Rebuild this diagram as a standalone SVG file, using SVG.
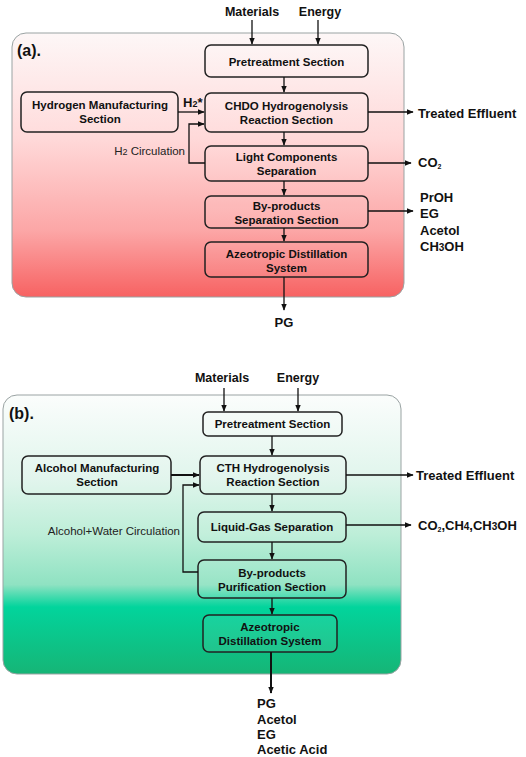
<svg xmlns="http://www.w3.org/2000/svg" width="526" height="757" viewBox="0 0 526 757">
<defs>
<linearGradient id="gRed" x1="0" y1="0" x2="0" y2="1">
<stop offset="0" stop-color="#fdf7f7"/>
<stop offset="0.4" stop-color="#ffd9d9"/>
<stop offset="0.75" stop-color="#fca6a6"/>
<stop offset="1" stop-color="#f76262"/>
</linearGradient>
<linearGradient id="gGreen" x1="0" y1="0" x2="0" y2="1">
<stop offset="0" stop-color="#fbfdfc"/>
<stop offset="0.3" stop-color="#e0f5ec"/>
<stop offset="0.5" stop-color="#bdeed8"/>
<stop offset="0.68" stop-color="#8fe2c2"/>
<stop offset="0.76" stop-color="#02d49c"/>
<stop offset="1" stop-color="#16b576"/>
</linearGradient>
<marker id="ah" viewBox="0 0 10 10" refX="9" refY="5" markerWidth="7" markerHeight="7" markerUnits="userSpaceOnUse" orient="auto">
<path d="M0,1 L10,5 L0,9 z" fill="#111"/>
</marker>
</defs>
<style>
.panel{stroke:#9aa3a3;stroke-width:1}
.box{fill:#ffffff;fill-opacity:0.08;stroke:#222;stroke-width:1.5}
.bt{font-family:"Liberation Sans",Arial,sans-serif;font-weight:bold;font-size:11.5px;fill:#111;text-anchor:middle}
.lab{font-family:"Liberation Sans",Arial,sans-serif;font-weight:bold;font-size:13px;fill:#111}
.top{font-family:"Liberation Sans",Arial,sans-serif;font-weight:bold;font-size:12.5px;fill:#111;text-anchor:middle}
.sm{font-family:"Liberation Sans",Arial,sans-serif;font-size:11.5px;fill:#222;text-anchor:end}
.pl{font-family:"Liberation Sans",Arial,sans-serif;font-weight:bold;font-size:16px;fill:#111}
.c{fill:none;stroke:#111;stroke-width:1.3}
.ct{fill:none;stroke:#111;stroke-width:2}
</style>

<!-- Panel (a) -->
<g id="panelA">
<rect class="panel" x="12" y="33" width="392" height="264" rx="14" fill="url(#gRed)"/>
<text class="pl" x="17" y="56">(a).</text>
</g>
<g id="a_materials"><text class="top" x="252" y="16">Materials</text></g>
<g id="a_energy"><text class="top" x="320" y="16">Energy</text></g>
<g id="a_pre">
<rect class="box" x="205" y="45" width="163" height="32" rx="6"/>
<text class="bt" x="286.5" y="66">Pretreatment Section</text>
</g>
<g id="a_hyd">
<rect class="box" x="21" y="92" width="157" height="40" rx="6"/>
<text class="bt" x="100" y="109">Hydrogen Manufacturing</text>
<text class="bt" x="100" y="123">Section</text>
</g>
<g id="a_chdo">
<rect class="box" x="205" y="93" width="163" height="39" rx="6"/>
<text class="bt" x="286.5" y="110">CHDO Hydrogenolysis</text>
<text class="bt" x="286.5" y="124">Reaction Section</text>
</g>
<g id="a_light">
<rect class="box" x="205" y="146" width="163" height="35" rx="6"/>
<text class="bt" x="286.5" y="161">Light Components</text>
<text class="bt" x="286.5" y="175">Separation</text>
</g>
<g id="a_byp">
<rect class="box" x="205" y="196" width="163" height="32" rx="6"/>
<text class="bt" x="286.5" y="210">By-products</text>
<text class="bt" x="286.5" y="224">Separation Section</text>
</g>
<g id="a_azeo">
<rect class="box" x="205" y="242" width="163" height="35" rx="6"/>
<text class="bt" x="286.5" y="258">Azeotropic Distillation</text>
<text class="bt" x="286.5" y="272">System</text>
</g>
<g id="a_labels">
<text class="lab" x="183" y="107">H<tspan font-size="9">2</tspan>*</text>
<text class="sm" x="185" y="155">H<tspan font-size="9">2</tspan> Circulation</text>
<text class="lab" x="418" y="118">Treated Effluent</text>
<text class="lab" x="418" y="167">CO<tspan font-size="7" dy="2">2</tspan></text>
<text class="lab" x="420" y="202">PrOH</text>
<text class="lab" x="420" y="218">EG</text>
<text class="lab" x="420" y="235">Acetol</text>
<text class="lab" x="420" y="251">CH<tspan font-size="10">3</tspan>OH</text>
<text class="lab" x="284" y="327" text-anchor="middle">PG</text>
</g>
<g id="a_connectors">
<path class="c" d="M252,20 V44" marker-end="url(#ah)"/>
<path class="c" d="M318,20 V44" marker-end="url(#ah)"/>
<path class="c" d="M284,77 V92" marker-end="url(#ah)"/>
<path class="c" d="M178,112 H204" marker-end="url(#ah)"/>
<path class="c" d="M205,163 H189 V124 H204" marker-end="url(#ah)"/>
<path class="c" d="M368,112 H413" marker-end="url(#ah)"/>
<path class="c" d="M284,132 V145" marker-end="url(#ah)"/>
<path class="c" d="M368,163 H411" marker-end="url(#ah)"/>
<path class="c" d="M284,181 V195" marker-end="url(#ah)"/>
<path class="c" d="M368,211 H413" marker-end="url(#ah)"/>
<path class="c" d="M284,228 V241" marker-end="url(#ah)"/>
<path class="c" d="M284,277 V310" marker-end="url(#ah)"/>
</g>

<!-- Panel (b) -->
<g id="panelB">
<rect class="panel" x="3" y="395" width="398" height="279" rx="14" fill="url(#gGreen)"/>
<text class="pl" x="9" y="419">(b).</text>
</g>
<g id="b_materials"><text class="top" x="222" y="382">Materials</text></g>
<g id="b_energy"><text class="top" x="298" y="382">Energy</text></g>
<g id="b_pre">
<rect class="box" x="203" y="412" width="139" height="24" rx="5"/>
<text class="bt" x="272.5" y="428">Pretreatment Section</text>
</g>
<g id="b_alc">
<rect class="box" x="22" y="456" width="149" height="38" rx="6"/>
<text class="bt" x="97" y="472">Alcohol Manufacturing</text>
<text class="bt" x="97" y="486">Section</text>
</g>
<g id="b_cth">
<rect class="box" x="200" y="456" width="146" height="38" rx="6"/>
<text class="bt" x="273" y="472">CTH Hydrogenolysis</text>
<text class="bt" x="273" y="486">Reaction Section</text>
</g>
<g id="b_lg">
<rect class="box" x="198" y="512" width="148" height="30" rx="6"/>
<text class="bt" x="272" y="531">Liquid-Gas Separation</text>
</g>
<g id="b_byp">
<rect class="box" x="198" y="560" width="148" height="38" rx="6"/>
<text class="bt" x="272" y="577">By-products</text>
<text class="bt" x="272" y="591">Purification Section</text>
</g>
<g id="b_azeo">
<rect class="box" x="203" y="615" width="134" height="37" rx="6"/>
<text class="bt" x="270" y="631">Azeotropic</text>
<text class="bt" x="270" y="645">Distillation System</text>
</g>
<g id="b_labels">
<text class="sm" x="180" y="535" font-size="12">Alcohol+Water Circulation</text>
<text class="lab" x="416" y="480">Treated Effluent</text>
<text class="lab" x="418" y="530">CO<tspan font-size="7" dy="2">2</tspan><tspan dy="-2">,CH</tspan><tspan font-size="10">4</tspan>,CH<tspan font-size="10">3</tspan>OH</text>
<text class="lab" x="257" y="708">PG</text>
<text class="lab" x="257" y="724">Acetol</text>
<text class="lab" x="257" y="739">EG</text>
<text class="lab" x="257" y="754">Acetic  Acid</text>
</g>
<g id="b_connectors">
<path class="c" d="M224,388 V411" marker-end="url(#ah)"/>
<path class="c" d="M298,388 V411" marker-end="url(#ah)"/>
<path class="c" d="M272,436 V455" marker-end="url(#ah)"/>
<path class="ct" d="M171,475 H199" marker-end="url(#ah)"/>
<path class="c" d="M198,572 H183 V485 H199" marker-end="url(#ah)"/>
<path class="c" d="M346,475 H413" marker-end="url(#ah)"/>
<path class="c" d="M272,494 V511" marker-end="url(#ah)"/>
<path class="c" d="M346,525 H411" marker-end="url(#ah)"/>
<path class="c" d="M272,542 V559" marker-end="url(#ah)"/>
<path class="c" d="M272,598 V614" marker-end="url(#ah)"/>
<path class="ct" d="M271,652 V693" marker-end="url(#ah)"/>
</g>
</svg>
